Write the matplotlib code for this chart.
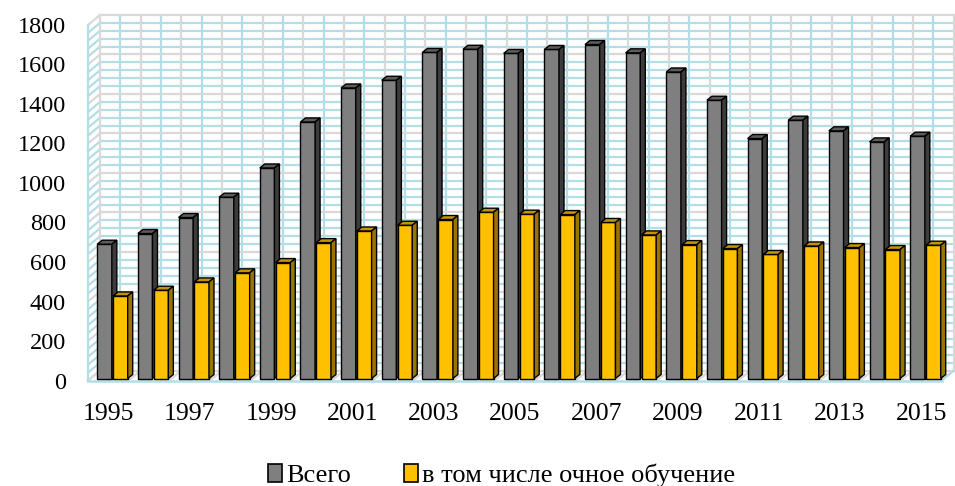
import matplotlib.pyplot as plt
from matplotlib.patches import Polygon, Patch

plt.rcParams['font.family'] = ['Liberation Serif', 'DejaVu Serif']

years = list(range(1995, 2016))
total = [680, 734, 815, 918, 1066, 1299, 1471, 1510, 1651, 1667, 1646,
         1666, 1691, 1649, 1552, 1409, 1215, 1308, 1254, 1198, 1227]
fulltime = [418, 447, 489, 535, 587, 688, 747, 776, 805, 842, 832,
            830, 790, 727, 678, 658, 628, 671, 663, 653, 675]
series_names = ['Всего', 'в том числе очное обучение']

W, H = 955, 486
fig = plt.figure(figsize=(W / 100, H / 100), dpi=100)

# front plane of the 3-D box, in pixels
left, right, bottom, top = 88, 941.65, 380.5, 25
ax = fig.add_axes([left / W, (H - bottom) / H, (right - left) / W, (bottom - top) / H])
ax.set_xlim(-0.5, len(years) - 0.5)
ax.set_ylim(0, 1800)
for s in ax.spines.values():
    s.set_visible(False)

# pixel -> data unit factors
ux = len(years) / (right - left)
uy = 1800 / (bottom - top)

DX, DY = 12 * ux, 10 * uy          # depth of the walls
PX, PY = 2.5 * ux, 2 * uy          # bars sit a little behind the front plane
BX, BY = 5 * ux, 4 * uy            # depth of each bar

blue = '#b3dde7'
grey = '#d9d9d9'
x0, x1 = -0.5, len(years) - 0.5


def poly(pts, **kw):
    ax.add_patch(Polygon(pts, closed=True, clip_on=False, **kw))


# walls
poly([(x0 + DX, DY), (x1 + DX, DY), (x1 + DX, 1800 + DY), (x0 + DX, 1800 + DY)],
     fc='white', ec='none', zorder=0)
poly([(x0, 0), (x0 + DX, DY), (x0 + DX, 1800 + DY), (x0, 1800)],
     fc='white', ec='none', zorder=0)

for v in range(0, 1801, 40):
    c = grey if v % 200 == 0 else blue
    z = 1.2 if v % 200 == 0 else 1.1
    ax.plot([x0 + DX, x1 + DX], [v + DY, v + DY], color=c, lw=1.6, zorder=z, clip_on=False)
    ax.plot([x0, x0 + DX], [v, v + DY], color=c, lw=1.6, zorder=z, clip_on=False)

for i in range(len(years) * 2 + 1):
    xv = x0 + i * 0.5
    c = grey if i % 2 == 0 else blue
    z = 1.2 if i % 2 == 0 else 1.1
    ax.plot([xv + DX, xv + DX], [DY, 1800 + DY], color=c, lw=1.6, zorder=z, clip_on=False)
    ax.plot([xv, xv + DX], [0, DY], color=c, lw=1.6, zorder=z, clip_on=False)

ax.plot([x0, x0], [0, 1800], color=blue, lw=1.6, zorder=1.3, clip_on=False)
ax.plot([x0, x1], [0, 0], color=blue, lw=1.8, zorder=1.3, clip_on=False)
ax.plot([x1, x1 + DX], [0, DY], color=blue, lw=1.6, zorder=1.3, clip_on=False)

# 3-D columns
width = 0.36
offsets = [-0.155, 0.235]
faces = [('#7f7f7f', '#5c5c5c', '#3c3c3c'), ('#ffc000', '#c39300', '#9a7400')]
for i in range(len(years)):
    for k, vals in enumerate([total, fulltime]):
        h = vals[i]
        xa = i + offsets[k] - width / 2 + PX
        xb = xa + width
        front, topc, side = faces[k]
        z = 3 + i * 0.01 + k * 0.005
        ax.bar(xa, h, width=width, bottom=PY, align='edge', color=front,
               edgecolor='black', linewidth=1.0, zorder=z, clip_on=False)
        poly([(xa, PY + h), (xb, PY + h), (xb + BX, PY + h + BY), (xa + BX, PY + h + BY)],
             fc=topc, ec='black', lw=1.0, zorder=z + 0.001)
        poly([(xb, PY), (xb + BX, PY + BY), (xb + BX, PY + h + BY), (xb, PY + h)],
             fc=side, ec='black', lw=1.0, zorder=z + 0.002)

ax.set_yticks(range(0, 1801, 200))
ax.set_yticklabels([str(v) for v in range(0, 1801, 200)], fontsize=17.5)
ax.set_xticks(range(0, len(years), 2))
ax.set_xticklabels([str(y) for y in years[::2]], fontsize=18.5)
ax.tick_params(axis='y', length=0, pad=16)
ax.tick_params(axis='x', length=0, pad=16)

handles = [Patch(fc=faces[0][0], ec='black', lw=1.2), Patch(fc=faces[1][0], ec='black', lw=1.2)]
fig.legend(handles, series_names, ncol=2, loc='center', bbox_to_anchor=(0.525, 0.022),
           frameon=False, fontsize=19, handlelength=0.55, handleheight=0.7,
           handletextpad=0.15, columnspacing=2.0)

fig.savefig('out.png', dpi=100)
